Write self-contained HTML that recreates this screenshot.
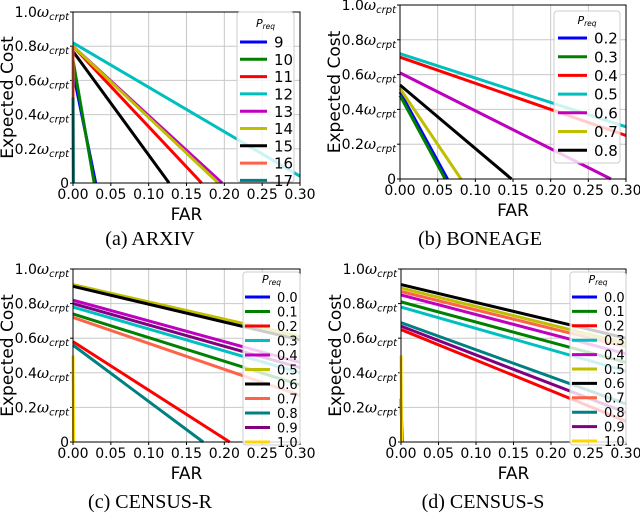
<!DOCTYPE html>
<html><head><meta charset="utf-8"><style>
body{margin:0;background:#fff;width:640px;height:520px;overflow:hidden}
svg{display:block}
text{font-family:"DejaVu Sans","Liberation Sans",sans-serif;fill:#000}
.cap{font-family:"Liberation Serif",serif;font-size:20px}
</style></head><body>
<svg id="fig" width="640" height="520" viewBox="0 0 640 520">
<text class="cap" x="150" y="245" text-anchor="middle">(a) ARXIV</text>
<text class="cap" x="480" y="245" text-anchor="middle">(b) BONEAGE</text>
<text class="cap" x="150" y="508" text-anchor="middle">(c) CENSUS-R</text>
<text class="cap" x="483" y="508" text-anchor="middle">(d) CENSUS-S</text>
</svg>
<script>
const xTicks=[0,0.05,0.10,0.15,0.20,0.25,0.30];
const xTickLabels=["0.00","0.05","0.10","0.15","0.20","0.25","0.30"];
const yTicks=[0,0.2,0.4,0.6,0.8,1.0];
const yTickLabels=["0","0.2","0.4","0.6","0.8","1.0"];
const colorsA=["#0000ff","#008000","#ff0000","#00bfbf","#bf00bf","#bfbf00","#000000","#ff6347","#008080"];
const colorsC=["#0000ff","#008000","#ff0000","#00bfbf","#bf00bf","#bfbf00","#000000","#ff6347","#008080","#800080","#ffd700"];
// ARXIV
const seriesA=["9","10","11","12","13","14","15","16","17"];
const a_y0=[0.65,0.72,0.80,0.82,0.80,0.80,0.77,0.80,0.50];
const a_x1=[0.030,0.028,0.170,0.30,0.197,0.192,0.127,0.0005,0.0005];
const a_y1=[0,0,0,0.04,0,0,0,0,0];
// BONEAGE
const seriesB=["0.2","0.3","0.4","0.5","0.6","0.7","0.8"];
const b_y0=[0.50,0.48,0.70,0.72,0.61,0.52,0.54];
const b_x1=[0.063,0.060,0.30,0.30,0.28,0.081,0.148];
const b_y1=[0,0,0.25,0.30,0,0,0];
// CENSUS-R
const seriesC=["0.0","0.1","0.2","0.3","0.4","0.5","0.6","0.7","0.8","0.9","1.0"];
const c_y0=[0,0.74,0.58,0.78,0.82,0.91,0.90,0.72,0.56,0.80,0.50];
const c_x1=[0.0005,0.30,0.207,0.30,0.30,0.30,0.30,0.30,0.172,0.30,0.0008];
const c_y1=[0,0.33,0,0.40,0.46,0.61,0.59,0.27,0,0.43,0];
// CENSUS-S
const d_y0=[0.25,0.81,0.65,0.78,0.85,0.89,0.91,0.87,0.69,0.67,0.50];
const d_x1=[0.0015,0.30,0.30,0.30,0.30,0.30,0.30,0.30,0.30,0.30,0.0008];
const d_y1=[0,0.46,0.12,0.41,0.51,0.57,0.60,0.55,0.22,0.17,0];

const NS="http://www.w3.org/2000/svg";
const svg=document.getElementById('fig');
function mk(tag,attrs,parent,txt){const e=document.createElementNS(NS,tag);for(const k in attrs)e.setAttribute(k,attrs[k]);if(txt!==undefined)e.textContent=txt;(parent||svg).appendChild(e);return e;}

function panel(id,L,R,T,B,names,colors,y0,x1,y1,leg){
  const g=mk('g',{});
  
  
  const sx=v=>L+(R-L)*v/0.3, sy=v=>B-(B-T)*v;
  xTicks.forEach((t,i)=>{
    const gl=mk('line',{x1:sx(t),x2:sx(t),y1:T,y2:B,stroke:'#c8c8c8','stroke-width':1},g);
    
    
    mk('line',{x1:sx(t),x2:sx(t),y1:B,y2:B+3,stroke:'#000'},g);
    const tl=mk('text',{x:sx(t),y:B+16,'text-anchor':'middle','font-size':14},g,xTickLabels[i]);
    
    
  });
  yTicks.forEach((t,i)=>{
    const gl=mk('line',{x1:L,x2:R,y1:sy(t),y2:sy(t),stroke:'#c8c8c8','stroke-width':1},g);
    
    
    mk('line',{x1:L-3,x2:L,y1:sy(t),y2:sy(t),stroke:'#000'},g);
    const tl=mk('text',{x:L-4,y:sy(t)+5,'text-anchor':'end','font-size':14},g);
    
    
    if(t===0){tl.textContent='0';}
    else{
      mk('tspan',{},tl,yTickLabels[i]);
      mk('tspan',{'font-style':'italic','font-family':'DejaVu Serif, serif','font-size':15},tl,'ω');
      mk('tspan',{'font-size':10,'font-style':'italic',dy:3},tl,'crpt');
    }
  });
  names.forEach((n,i)=>{
    const ln=mk('line',{x1:sx(0),y1:sy(y0[i]),x2:sx(x1[i]),y2:sy(y1[i]),stroke:colors[i],'stroke-width':3},g);
    
    
  });
  mk('rect',{x:L,y:T,width:R-L,height:B-T,fill:'none',stroke:'#000','stroke-width':1},g);
  const lg=mk('g',{},g);
  
  
  mk('rect',{x:leg.x,y:leg.y,width:leg.w,height:leg.h,rx:3,fill:'rgba(255,255,255,0.8)',stroke:'#ccc'},lg);
  const tt=mk('text',{x:leg.x+leg.w/2,y:leg.ty,'text-anchor':'middle','font-size':11,'font-style':'italic'},lg);
  mk('tspan',{},tt,'P');
  mk('tspan',{'font-size':7.5,dy:2},tt,'req');
  names.forEach((n,i)=>{
    const y=leg.y0+i*leg.dy;
    const e=mk('g',{},lg);
    
    
    mk('line',{x1:leg.lx,x2:leg.lx+leg.lw,y1:y,y2:y,stroke:colors[i],'stroke-width':3},e);
    mk('text',{x:leg.lx+leg.lw+7,y:y+leg.fs*0.37,'font-size':leg.fs},e,n);
  });
  const xt=mk('text',{x:(L+R)/2,y:B+37,'text-anchor':'middle','font-size':17},g,'FAR');
  
  
  const yt=mk('text',{x:0,y:0,'text-anchor':'middle','font-size':17,transform:`translate(${L-60},${(T+B)/2}) rotate(-90)`},g,'Expected Cost');
  
  
}
panel('arxiv',73,300,12,183,seriesA,colorsA,a_y0,a_x1,a_y1,{x:237,y:12,w:57,h:170,ty:27,y0:42,dy:17.3,lx:240,lw:27,fs:15});
panel('boneage',400,626,5,179,seriesB,colorsA,b_y0,b_x1,b_y1,{x:554,y:11,w:66,h:152,ty:24,y0:38,dy:18.7,lx:558,lw:29,fs:15});
panel('census-r',73,300,269,442,seriesC,colorsC,c_y0,c_x1,c_y1,{x:243,y:272,w:57,h:173,ty:283,y0:297,dy:14.5,lx:245,lw:25,fs:13});
panel('census-s',401,626,269,442,seriesC,colorsC,d_y0,d_x1,d_y1,{x:570,y:272,w:56,h:173,ty:283,y0:297,dy:14.4,lx:572,lw:25,fs:13});
</script>
</body></html>
